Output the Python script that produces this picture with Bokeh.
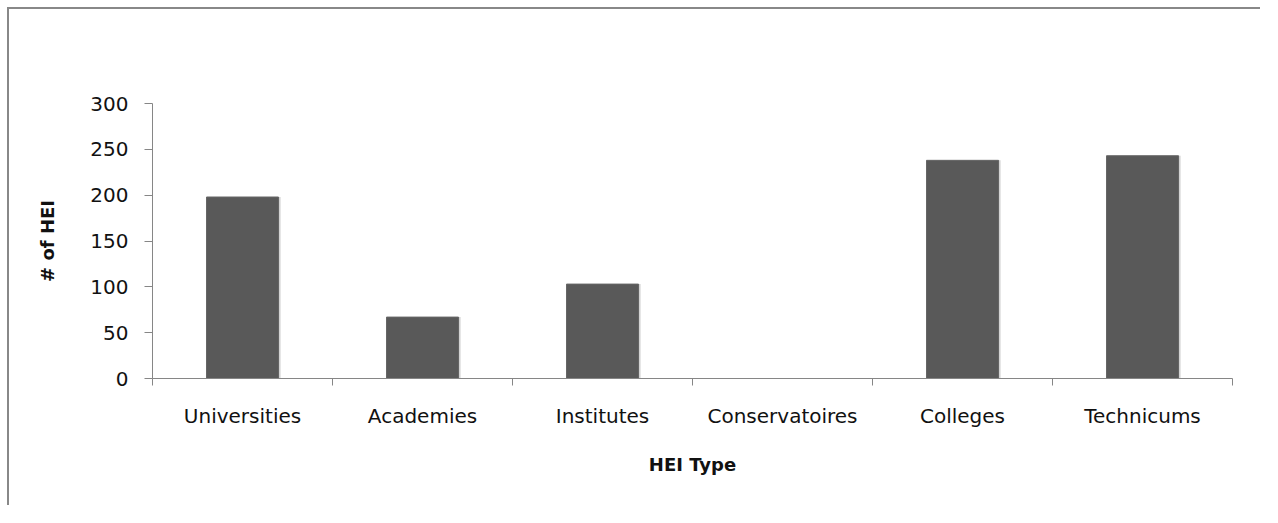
from bokeh.plotting import figure
from bokeh.layouts import column
from bokeh.models import Range1d, FixedTicker, ColumnDataSource
from bokeh.transform import dodge
from bokeh.embed import file_html
from bokeh.resources import INLINE

categories = ["Universities", "Academies", "Institutes", "Conservatoires", "Colleges", "Technicums"]
counts = [198, 67, 103, 0, 238, 243]
y_ticks = [0, 50, 100, 150, 200, 250, 300]

centers = [i + 0.5 for i in range(len(categories))]
bounds = [i for i in range(len(categories) + 1)]

src = ColumnDataSource(dict(x=centers, top=counts, cat=categories))

FONT = "DejaVu Sans"

p = figure(width=1253, height=498, output_backend="svg", toolbar_location=None,
           x_range=Range1d(0, len(categories)), y_range=Range1d(0, 300),
           min_border_left=143, min_border_right=30, min_border_top=94, min_border_bottom=129)
p.styles = {"border-left": "2px solid #888888", "border-top": "2px solid #888888"}
p.outline_line_color = None
p.xgrid.grid_line_color = None
p.ygrid.grid_line_color = None
p.background_fill_color = "white"
p.border_fill_color = "white"

# soft shadow to the right of each bar
p.vbar(x=dodge("x", 0.008, range=p.x_range), top="top", width=0.412, bottom=0, source=src,
       fill_color="#c8c8c8", fill_alpha=0.45, line_color=None)
p.vbar(x=dodge("x", 0.004, range=p.x_range), top="top", width=0.404, bottom=0, source=src,
       fill_color="#a0a0a0", fill_alpha=0.45, line_color=None)
p.vbar(x="x", top="top", width=0.4, bottom=0, source=src,
       fill_color="#595959", line_color="#666666", line_width=1)

# x axis
xa = p.xaxis[0]
xa.ticker = FixedTicker(ticks=centers, minor_ticks=bounds)
xa.major_label_overrides = {c: n for c, n in zip(centers, categories)}
xa.major_tick_line_color = None
xa.minor_tick_line_color = "#868686"
xa.minor_tick_in = 0
xa.minor_tick_out = 7
xa.axis_line_color = "#868686"
xa.major_label_text_font = FONT
xa.major_label_text_font_size = "20px"
xa.major_label_text_color = "#111111"
xa.major_label_standoff = 18
xa.axis_label = "HEI Type"
xa.axis_label_text_font = FONT
xa.axis_label_text_font_style = "bold"
xa.axis_label_text_font_size = "18px"
xa.axis_label_text_color = "#111111"
xa.axis_label_standoff = 23

# y axis
ya = p.yaxis[0]
ya.ticker = FixedTicker(ticks=y_ticks, minor_ticks=[])
ya.major_tick_line_color = "#868686"
ya.major_tick_in = 0
ya.major_tick_out = 8
ya.minor_tick_line_color = None
ya.axis_line_color = "#868686"
ya.major_label_text_font = FONT
ya.major_label_text_font_size = "20px"
ya.major_label_text_color = "#111111"
ya.major_label_standoff = 16
ya.axis_label = "# of HEI"
ya.axis_label_text_font = FONT
ya.axis_label_text_font_style = "bold"
ya.axis_label_text_font_size = "18px"
ya.axis_label_text_color = "#111111"
ya.axis_label_standoff = 29

layout = column(p, styles={"padding-left": "7px", "padding-top": "7px", "background": "white"})

open("out.html", "w").write(file_html(layout, INLINE))
